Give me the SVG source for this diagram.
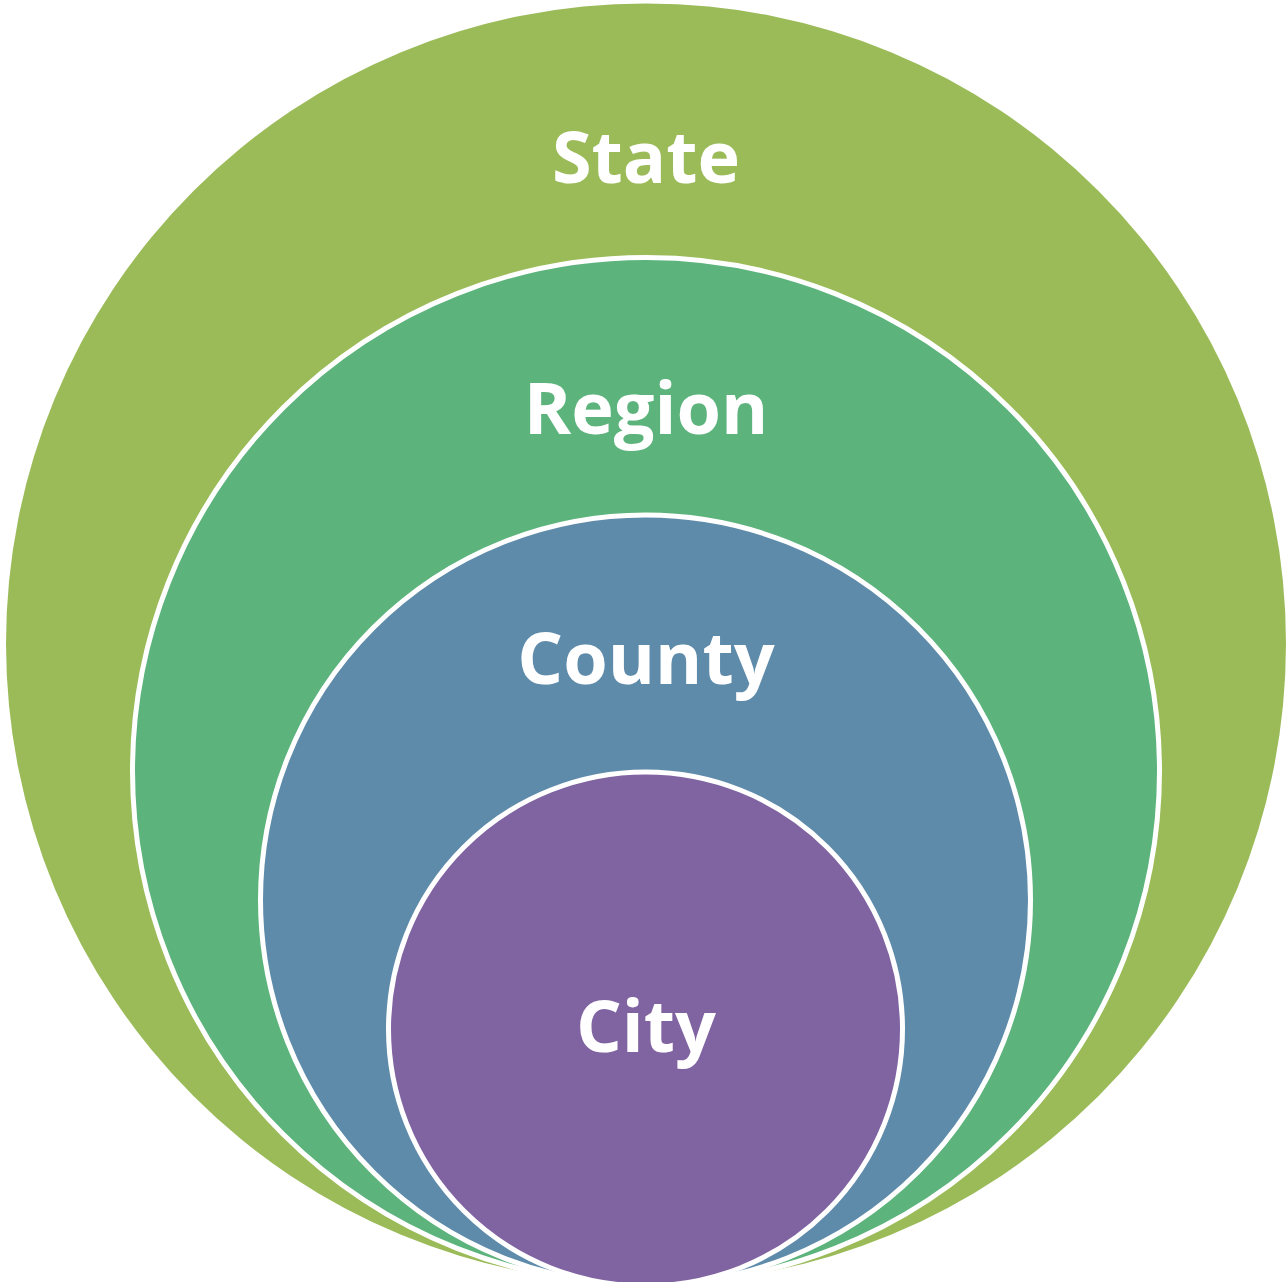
<svg xmlns="http://www.w3.org/2000/svg" width="1288" height="1282" viewBox="0 0 1288 1282">
<style>
.lbl{font-family:"Open Sans","Noto Sans","Liberation Sans",sans-serif;font-weight:700;font-size:72px;fill:#FFFFFF;text-anchor:middle}
.ring{stroke:#FFFFFF;stroke-width:5}
</style>
<rect width="1288" height="1282" fill="#FFFFFF"/>
<g id="state">
<circle cx="646" cy="643.5" r="640" fill="#9BBB59"/>
<text class="lbl" x="646" y="183">State</text>
</g>
<g id="region">
<circle class="ring" cx="646" cy="771" r="513.5" fill="#5CB37C"/>
<text class="lbl" x="646" y="434">Region</text>
</g>
<g id="county">
<circle class="ring" cx="645.5" cy="900" r="385" fill="#5F8BAB"/>
<text class="lbl" x="646" y="684">County</text>
</g>
<g id="city">
<circle class="ring" cx="645.5" cy="1029" r="257" fill="#8064A2"/>
<text class="lbl" x="646" y="1052">City</text>
</g>
<g id="connectors"/>
</svg>
